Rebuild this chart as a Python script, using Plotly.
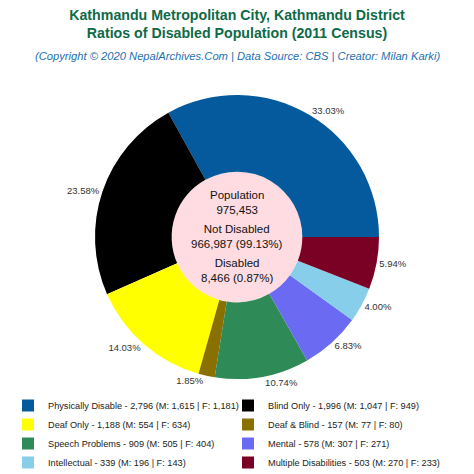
import plotly.graph_objects as go

labels = ["Physically Disable", "Blind Only", "Deaf Only", "Deaf & Blind",
          "Speech Problems", "Mental", "Intellectual", "Multiple Disabilities"]
values = [2796, 1996, 1188, 157, 909, 578, 339, 503]
male = [1615, 1047, 554, 77, 505, 307, 196, 270]
female = [1181, 949, 634, 80, 404, 271, 143, 233]
colors = ["#045A9C", "#000000", "#FFFF00", "#8A7000",
          "#2E8B57", "#6A6AF2", "#87CEEB", "#7A0024"]

population = 975453
not_disabled = 966987
disabled = sum(values)

# the page body adds an 8px margin, so draw on a 466px figure
OFF = 8
W = H = 474 - OFF
cx, cy, R = 237 - OFF, 237 - OFF, 142
HOLE = 0.46

legend_names = [f"{l} - {v:,} (M: {m:,} | F: {f:,})"
                for l, v, m, f in zip(labels, values, male, female)]

# first slice ends at 3 o'clock, the rest run counterclockwise
rot = 90 - 360 * values[0] / sum(values)

fig = go.Figure()
fig.add_trace(go.Pie(
    labels=legend_names, values=values, sort=False,
    direction="counterclockwise", rotation=rot, hole=HOLE,
    marker=dict(colors=colors, line=dict(width=0)),
    texttemplate="%{percent:.2%}",
    textposition="outside", outsidetextfont=dict(size=9.5, color="#333333"),
    domain=dict(x=[(cx - R) / W, (cx + R) / W], y=[(H - cy - R) / H, (H - cy + R) / H]),
    hoverinfo="label+value+percent",
))

# pink centre
r_in = R * HOLE
fig.add_shape(type="circle", xref="paper", yref="paper", layer="below",
              x0=(cx - r_in) / W, x1=(cx + r_in) / W,
              y0=(H - cy - r_in) / H, y1=(H - cy + r_in) / H,
              fillcolor="#FFDCE1", line=dict(width=0))

centre = [
    f"Population<br>{population:,}",
    f"Not Disabled<br>{not_disabled:,} ({not_disabled / population:.2%})",
    f"Disabled<br>{disabled:,} ({disabled / population:.2%})",
]
for txt, s in zip(centre, [35, 1, -33]):
    fig.add_annotation(text=txt, xref="paper", yref="paper", x=cx / W, y=(H - cy) / H,
                       yshift=s, showarrow=False, font=dict(size=11.5, color="#111111"))

fig.add_annotation(
    text="<i>(Copyright © 2020 NepalArchives.Com | Data Source: CBS | Creator: Milan Karki)</i>",
    xref="paper", yref="paper", x=(237 - OFF) / W, y=(H - (48 - OFF)) / H, showarrow=False,
    font=dict(size=11.2, color="#1F6FB0"))

fig.update_layout(
    width=W, height=H,
    margin=dict(l=0, r=0, t=0, b=0, autoexpand=False),
    paper_bgcolor="white", plot_bgcolor="white",
    font=dict(family="Liberation Sans, Arial", color="#222222"),
    title=dict(text="<b>Kathmandu Metropolitan City, Kathmandu District<br>"
                    "Ratios of Disabled Population (2011 Census)</b>",
               x=(237 - OFF) / W, xanchor="center", y=1 - 12 / H, yanchor="top",
               yref="container", font=dict(size=14.2, color="#0E6A47")),
    showlegend=True,
    legend=dict(orientation="h", x=0.0, xanchor="left", y=(H - 383) / H, yanchor="top",
                entrywidth=175, font=dict(size=9.2, color="#222222"),
                traceorder="normal"),
)

fig.write_html("out.html")
